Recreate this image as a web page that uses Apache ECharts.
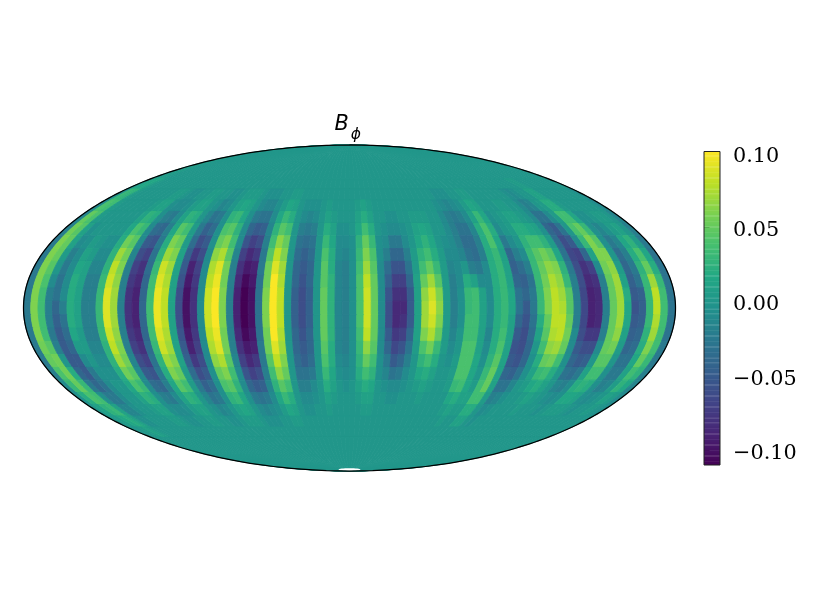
<!DOCTYPE html>
<html><head><meta charset="utf-8">
<style>html,body{margin:0;padding:0;background:#fff}#c{width:822px;height:616px}</style>
<script src="https://cdn.jsdelivr.net/npm/echarts@6/dist/echarts.min.js"></script>
</head><body><div id="c"></div>
<script>
const titleMain = 'B', titleSub = 'ϕ';
const colorbarTicks = [-0.10, -0.05, 0.00, 0.05, 0.10];
const vmin = -0.1101, vmax = 0.1010;
const viridis = ['#440154','#482475','#414487','#355f8d','#2a788e','#21918c','#22a884','#44bf70','#7ad151','#bddf26','#fde725'];
const lonCount = 90;
const latEdges = [90,63,57,51,45,39,33,27,21,15,9,3,-3,-9,-15,-21,-27,-33,-39,-45,-51,-57,-63,-90];
// B_phi in hundredths, rows north to south, columns lon -178 ... 178 in 4 degree cells
const capNorth = [0,.5,.5,0,0,0,0,0,0,0, 0,0,0,0,0,0,0,0,0,0, 0,0,0,0,0,0,0,0,0,0, 0,0,0,0,0,0,0,0,0,0, 0,0,0,0,0,0,0,0,0,0, 0,0,0,0,0,0,0,0,0,0, 0,0,0,0,0,0,0,0,0,0, 0,0,0,0,0,0,0,0,0,0, 0,0,0,0,0,0,0,0,0,0];
const lat60 = [0,1.5,1.5,.5,0,0,0,0,0,0, 0,0,0,0,0,0,0,0,0,0, 0,0,0,0,0,0,0,0,0,0, 0,0,0,0,0,0,0,0,0,0, 0,0,0,0,0,0,0,0,0,0, 0,0,0,0,0,0,0,0,0,0, 0,0,0,0,0,0,0,0,0,0, 0,0,0,0,0,0,0,0,0,0, .5,.5,0,0,0,0,0,0,0,0];
const lat54 = [-.5,3,2.5,.5,0,0,0,0,0,0, 0,.5,.5,0,-.5,-.5,0,0,.5,.5, 0,0,-.5,-.5,0,.5,.5,.5,0,-.5, -.5,-.5,0,0,.5,.5,0,0,0,0, 0,0,0,0,0,0,0,0,0,0, 0,0,0,0,0,0,0,0,0,0, 0,-.5,-.5,-.5,0,0,.5,.5,0,0, 0,0,0,0,0,-.5,-1,-.5,0,0, 1,1,0,0,0,0,0,0,0,-.5];
const lat48 = [-1,4,3.5,.5,0,0,0,0,0,0, .5,1,1,-.5,-1,-1,-.5,.5,1,1, 0,-.5,-1.5,-1,0,1,1.5,1,0,-1, -1.5,-1.5,-.5,.5,1.5,1,0,-.5,-.5,-.5, 0,.5,0,0,0,0,.5,1,.5,0, 0,0,0,0,0,0,0,0,0,0, -.5,-1,-1.5,-1,-.5,.5,1.5,1,0,0, 0,.5,.5,0,0,-1,-2,-1.5,0,.5, 2,2,.5,0,0,0,0,0,0,-1];
const lat42 = [-1.5,5,4,.5,0,0,0,0,0,0, 1,2.5,2,-.5,-2,-2.5,-1,1,2.5,2, 0,-1.5,-3,-2.5,-.5,2.5,3,1.5,-.5,-2.5, -3,-3,-1,1.5,3,2,0,-1,-1.5,-1, 0,1,.5,0,0,0,1,2,1,0, 0,-.5,-.5,0,0,.5,.5,.5,0,0, -1,-2,-2.5,-2,-1,1,3,1.5,-.5,0, .5,1,1,.5,0,-1,-3,-3,-1,.5, 3.5,3.5,1.5,-.5,-.5,0,.5,.5,0,-1.5];
const lat36 = [-2,5.5,4.5,1,-.5,0,0,0,0,0, 1.5,4,3,-1,-3.5,-4,-2,1.5,4.5,3.5, .5,-2.5,-4.5,-3.5,-.5,4,4.5,2.5,-1,-4, -5,-4.5,-1.5,2.5,4.5,3.5,0,-2,-2.5,-2, 0,2,1,-.5,-.5,0,1.5,3.5,2,0, -.5,-1,-1,-.5,0,1,1.5,1,0,0, -1,-2,-3,-3,-1.5,2,4,2,-1,0, .5,2,2,1.5,1,-.5,-4,-5,-3,0, 4,5,3,-.5,-1.5,-.5,.5,1,0,-2];
const lat30 = [-2.5,6,5,1,-1,-.5,.5,0,-.5,-.5, 2,5.5,4.5,-1,-5,-5.5,-2.5,2,6,5, .5,-3.5,-6,-5,-.5,5,6,3.5,-1,-5.5, -7,-6,-2,3.5,6.5,5,0,-3,-3.5,-3, 0,3,1.5,-1,-1,-.5,2.5,5,3,-.5, -1,-2.5,-2.5,-1,0,1.5,2.5,1.5,0,-.5, -1,-2,-3.5,-3.5,-2,2,4,1.5,-2.5,-1, 0,2.5,3.5,3.5,2.5,.5,-3.5,-6,-5,-1, 3,6,4.5,-.5,-2.5,-1.5,1.5,2.5,.5,-2.5];
const lat24 = [-2.5,6,5,.5,-2,-1,1,.5,-1,-1, 2.5,7,5.5,-1.5,-6,-7,-3,2.5,7,6, 1,-4.5,-7.5,-6,-1,6.5,7.5,4.5,-1.5,-7, -8.5,-7.5,-2.5,4.5,8,6,0,-3.5,-4.5,-3.5, 0,4,2,-1,-1.5,-.5,3,6,4,-.5, -2,-4,-4,-2,.5,2.5,3.5,2,.5,-1, -1,-1.5,-3,-3.5,-2,2,3,1,-4,-2, -1,3,4.5,5.5,4.5,1.5,-3,-6.5,-7,-4, 1,6,6,0,-3.5,-2,2,4,1.5,-3];
const lat18 = [-2.5,6,4.5,0,-2.5,-1,1.5,1,-1.5,-1.5, 2.5,8,6,-2,-7,-8,-3.5,3,8.5,7, 1,-5,-9,-7,-1,7.5,9,5.5,-2,-8, -9.5,-9,-2.5,5.5,9,7,0,-4,-5,-4, 0,4.5,2,-1.5,-2,-.5,3.5,7,4.5,-1, -3.5,-5.5,-5.5,-3,.5,3.5,5,3,.5,-1.5, -1,0,-2,-2.5,-1,2,3,1,-4.5,-3.5, -2,3,5,6.5,6,2.5,-2.5,-6,-8,-7, -1,5.5,6.5,.5,-4,-2.5,2.5,5,2,-3];
const lat12 = [-2.5,6,4,-1,-3,-1,2,1,-2,-2, 3,8.5,6.5,-2,-7.5,-8.5,-4,3.5,9,7.5, 1,-5.5,-9.5,-7.5,-1,8,9.5,5.5,-2,-8.5, -10.5,-9.5,-3,5.5,10,7.5,0,-4,-5.5,-4, 0,4.5,2.5,-1.5,-2,-.5,4,8,5,-1, -4.5,-7,-7,-4,1,5,7,4.5,.5,-2, -1,2,1,-1,-1,2,3,1,-4,-4.5, -3,3,5.5,7.5,6.5,3,-2,-6,-8.5,-8, -2,5,7,1,-4.5,-3,3,7,3,-3];
const lat06 = [-2.5,6,3.5,-2,-3,-1,2,1,-2,-2, 3,9,7,-2,-8,-9,-4,3.5,9.5,8, 1,-6,-10,-8,-1,8.5,10,6,-2,-9, -11,-10,-3,6,10,8,0,-4.5,-6,-4.5, 0,5,2.5,-1.5,-2,-.5,4,8.5,5,-1, -5.5,-8,-8,-5,1,6.5,8.5,6,.5,-2, -.5,3,3.5,1,-1,2,3,1.5,-3,-4, -2.5,3,6,8,7,4.5,-2,-6.5,-9,-8.5, -2,5,7,2,-5,-4.5,3,8,3.5,-3];
const lat00 = [-2.5,6,3.5,-2,-4,-2,2,1,-2,-2, 3,9,7,-2,-8,-9,-4,3.5,9.5,8, 1,-6,-10,-8,-1,8.5,10,6,-2,-9, -11,-10,-3,6,10,8,0,-4.5,-6,-4.5, 0,5,2.5,-1.5,-2,-.5,4,8.5,5,-1, -6,-8.5,-8.5,-5,1,7,9,6.5,.5,-2, -.5,3,3.5,1,-1,2,3,1.5,-3,-5, -2.5,3,6,8,7.5,4.5,-2,-6.5,-9,-8.5, -2,5,7,1.5,-5.5,-4.5,3,8,3.5,-3];
const lats06 = [-2.5,6,3.5,-2,-4.5,-3,2,1,-2,-2, 3,9,7,-2,-8,-9,-4,3.5,9.5,8, 1,-6,-10,-8,-1,8.5,10,6,-2,-9, -11,-10,-3,6,10,8,0,-4.5,-6,-4.5, 0,5,2.5,-1.5,-2,-.5,4,8.5,5,-1, -6,-8.5,-8,-5,1,7,8.5,6,.5,-2, -.5,3.5,3.5,1,-1,2,3,1,-4,-5.5, -3,2,5,8,8,5,-2,-6.5,-9,-8.5, -2,5,7,1.5,-5,-4.5,3,7.5,3.5,-3];
const lats12 = [-2.5,6,3.5,-2.5,-5,-3.5,1.5,.5,-2,-2, 3,8.5,6.5,-2,-7.5,-8.5,-4,3.5,9,7.5, 1,-5.5,-9.5,-7.5,-1,8,9.5,5.5,-2,-8.5, -10.5,-9.5,-3,5.5,10,7.5,0,-4,-5.5,-4, 0,5,2.5,-1.5,-2,-.5,3.5,8,5,-1, -5,-7.5,-7,-4,1,6,7.5,5,.5,-1.5, 0,3.5,3.5,1,-1.5,2,3.5,1,-5,-6, -3.5,1,4.5,7.5,8,5.5,-1,-6,-7.5,-7.5, -2,5,6.5,1,-4.5,-4,2.5,7,3.5,-3];
const lats18 = [-2.5,5.5,4.5,-2,-5,-4,.5,.5,-1.5,-1.5, 2.5,8,6,-2,-7,-8,-3.5,3,8.5,7, 1,-5,-9,-7,-1,7.5,9,5.5,-2,-8, -9.5,-9,-2.5,5.5,9,7,0,-4,-5,-4, 0,4.5,2,-1.5,-2,-.5,3,6.5,4.5,-1, -4,-6.5,-5.5,-3,.5,4,5.5,3,.5,-1, 0,4,4,1,-1,2,4,1,-5.5,-6, -4,0,3.5,6.5,7,5,-1,-5,-6,-6, -1,5,5.5,.5,-4,-3.5,2,6,3.5,-2.5];
const lats24 = [-2.5,5,5.5,0,-5,-5,-1,0,-1,-1, 2.5,7,5.5,-1.5,-6,-7,-3,2.5,7,6, 1,-4.5,-7.5,-6,-1,6.5,7.5,4.5,-1.5,-7, -8.5,-7.5,-2.5,4.5,8,6,0,-3.5,-4.5,-3.5, 0,4,2,-1,-1.5,-.5,2.5,5,3.5,-.5, -2.5,-5,-4,-2,0,2.5,3.5,2,0,-.5, .5,4,4,1.5,-.5,2.5,4.5,1,-5,-5.5, -4,-.5,2,5,5.5,3.5,-.5,-4,-5,-4.5, 0,4.5,4.5,0,-3,-3,1.5,5,3,-2.5];
const lats30 = [-2,4,5.5,2,-4,-5,-2.5,-.5,-.5,-.5, 2,5.5,4.5,-1,-5,-5.5,-2.5,2,6,5, .5,-3.5,-6,-5,-.5,5,6,3.5,-1,-5.5, -7,-6,-2,3.5,6.5,5,0,-3,-3,-2.5, 0,3,1.5,-.5,-1,-.5,2,3.5,2.5,-.5, -1.5,-3,-2.5,-1,0,1.5,2,1,0,0, .5,4,4,1.5,0,3,5,1,-4,-4.5, -3,-.5,1,3,3.5,2,0,-3,-3.5,-2.5, 1,3.5,3.5,-.5,-2.5,-2.5,1,3.5,2.5,-2];
const lats36 = [-1,3,5,3,-2.5,-4,-3,-1,0,0, 1.5,4,3,-1,-3.5,-4,-2,1.5,4.5,3.5, .5,-2.5,-4.5,-3.5,-.5,4,4.5,2.5,-1,-4, -5,-4.5,-1.5,2.5,4.5,3.5,0,-2,-2,-1, 0,2,1,0,-.5,0,1,2,1.5,0, -.5,-1,-1,-.5,0,.5,1,.5,0,0, .5,3,3.5,1.5,.5,3.5,5,1,-3,-3, -1.5,0,.5,1.5,2,1,0,-1.5,-2,-1, 2,2.5,2,-.5,-2,-1.5,.5,2.5,1.5,-1.5];
const lats42 = [-.5,2,4,3.5,-.5,-2.5,-2.5,-1,0,0, 1,2.5,2,-.5,-2,-2.5,-1,1,2.5,2, 0,-1.5,-3,-2.5,-.5,2.5,3,1.5,-.5,-2.5, -3,-2.5,-1,1.5,3,2,0,-1,-1,-.5, 0,1,.5,0,0,0,.5,1,1,0, 0,-.5,-.5,0,0,0,.5,0,0,0, 0,1.5,2,1,1,3.5,3.5,.5,-2,-1.5, -.5,0,0,.5,1,.5,0,-.5,-1,-.5, 1.5,1.5,1,-.5,-1,-.5,0,1,.5,-1];
const lats48 = [0,1,2.5,3,1,-1.5,-1.5,-.5,0,0, .5,1,1,-.5,-1,-1,-.5,.5,1,1, 0,-.5,-1.5,-1,0,1,1.5,1,0,-1, -1.5,-1,-.5,.5,1.5,1,0,-.5,-.5,0, 0,.5,0,0,0,0,0,.5,.5,0, 0,0,0,0,0,0,0,0,0,0, 0,.5,1,.5,.5,2,2,0,-1,-.5, 0,0,0,0,.5,0,0,0,-.5,0, .5,.5,.5,0,-.5,0,0,.5,0,-.5];
const lats54 = [0,.5,1.5,2,1,-.5,-.5,0,0,0, 0,.5,.5,0,-.5,-.5,0,0,.5,.5, 0,0,-.5,-.5,0,.5,.5,.5,0,-.5, -.5,-.5,0,0,.5,.5,0,0,0,0, 0,0,0,0,0,0,0,0,0,0, 0,0,0,0,0,0,0,0,0,0, 0,0,.5,0,0,1,1,0,-.5,0, 0,0,0,0,0,0,0,0,0,0, 0,0,0,0,0,0,0,0,0,0];
const lats60 = [0,0,.5,1,.5,0,0,0,0,0, 0,0,0,0,0,0,0,0,0,0, 0,0,0,0,0,0,0,0,0,0, 0,0,0,0,0,0,0,0,0,0, 0,0,0,0,0,0,0,0,0,0, 0,0,0,0,0,0,0,0,0,0, 0,0,0,0,0,0,0,0,0,0, 0,0,0,0,0,0,0,0,0,0, 0,0,0,0,0,0,0,0,0,0];
const capSouth = [0,0,0,0,0,0,0,0,0,0, 0,0,0,0,0,0,0,0,0,0, 0,0,0,0,0,0,0,0,0,0, 0,0,0,0,0,0,0,0,0,0, 0,0,0,0,0,0,0,0,0,0, 0,0,0,0,0,0,0,0,0,0, 0,0,0,0,0,0,0,0,0,0, 0,0,0,0,0,0,0,0,0,0, 0,0,0,0,0,0,0,0,0,0];
const bphiRows = [capNorth,lat60,lat54,lat48,lat42,lat36,lat30,lat24,lat18,lat12,lat06,lat00,lats06,lats12,lats18,lats24,lats30,lats36,lats42,lats48,lats54,lats60,capSouth];

const R2 = Math.SQRT2;
function mollweide(lonDeg, latDeg) {
  const phi = latDeg * Math.PI / 180;
  let th = phi;
  if (Math.abs(latDeg) >= 90) { th = Math.sign(latDeg) * Math.PI / 2; }
  else {
    for (let i = 0; i < 60; i++) {
      const d = (2*th + Math.sin(2*th) - Math.PI*Math.sin(phi)) / (2 + 2*Math.cos(2*th) + 1e-12);
      th -= d;
      if (Math.abs(d) < 1e-9) break;
    }
  }
  return [2*R2/Math.PI * (lonDeg*Math.PI/180) * Math.cos(th), R2*Math.sin(th)];
}
function colorOf(v) {
  const t = Math.min(1, Math.max(0, (v-vmin)/(vmax-vmin)));
  return echarts.color.lerp(t, viridis);
}

const cells = [];
const lonStep = 360 / lonCount;
bphiRows.forEach((row, r) => {
  row.forEach((v, c) => {
    const lonL = -180 + c*lonStep;
    cells.push([lonL, lonL + lonStep, latEdges[r], latEdges[r+1], v/100]);
  });
});

function renderCell(params, api) {
  const lonL = api.value(0), lonR = api.value(1), latT = api.value(2), latB = api.value(3);
  const n = Math.max(2, Math.ceil((latT-latB)/1.5));
  const pts = [];
  for (let i = 0; i <= n; i++) pts.push(api.coord(mollweide(lonL, latT + (latB-latT)*i/n)));
  for (let i = n; i >= 0; i--) pts.push(api.coord(mollweide(lonR, latT + (latB-latT)*i/n)));
  const col = colorOf(api.value(4));
  return {type:'polygon', shape:{points:pts}, style:{fill:col, stroke:col, lineWidth:0.9}};
}

function renderOutline(params, api) {
  const pts = [];
  for (let a = 90; a >= -90; a -= 1) pts.push(api.coord(mollweide(-180, a)));
  for (let a = -90; a <= 90; a += 1) pts.push(api.coord(mollweide(180, a)));
  const south = api.coord(mollweide(0, -90));
  return {type:'group', children:[
    {type:'ellipse', shape:{cx:south[0], cy:south[1]-1.5, rx:11, ry:1.2}, style:{fill:'#fff'}},
    {type:'polygon', shape:{points:pts}, style:{fill:'none', stroke:'#000', lineWidth:1.25}}
  ]};
}

const colorbarCells = [];
for (let i = 0; i < 256; i++) {
  const a = vmin + (vmax-vmin)*i/256, b = vmin + (vmax-vmin)*(i+1)/256;
  colorbarCells.push([0, 1, a, b, (a+b)/2]);
}
function renderBarCell(params, api) {
  const p0 = api.coord([0, api.value(2)]), p1 = api.coord([1, api.value(3)]);
  return {type:'rect', shape:{x:p0[0], y:p1[1], width:p1[0]-p0[0], height:p0[1]-p1[1]+0.4}, style:{fill:colorOf(api.value(4))}};
}
function renderBarFrame(params, api) {
  const p0 = api.coord([0, vmin]), p1 = api.coord([1, vmax]);
  return {type:'rect', shape:{x:p0[0], y:p1[1], width:p1[0]-p0[0], height:p0[1]-p1[1]}, style:{fill:'none', stroke:'#222', lineWidth:1}};
}

const chart = echarts.init(document.getElementById('c'), null, {renderer:'canvas'});
chart.setOption({
  animation:false,
  backgroundColor:'#fff',
  title:{left:334.5, top:114.5, padding:0, text:'{b|'+titleMain+'}{s|'+titleSub+'}', textStyle:{rich:{
    b:{fontFamily:'DejaVu Sans', fontStyle:'italic', fontWeight:'normal', fontSize:20.8, color:'#000', lineHeight:26, verticalAlign:'top'},
    s:{fontFamily:'DejaVu Sans', fontStyle:'italic', fontWeight:'normal', fontSize:15.5, color:'#000', lineHeight:26, padding:[14,0,0,2]}
  }}},
  grid:[
    {left:23.5, top:145, width:652, height:326, show:false},
    {left:704, top:151.5, width:16, height:313.5, show:false}
  ],
  xAxis:[
    {gridIndex:0, type:'value', min:-2*R2, max:2*R2, show:false},
    {gridIndex:1, type:'value', min:0, max:1, show:false}
  ],
  yAxis:[
    {gridIndex:0, type:'value', min:-R2, max:R2, show:false},
    {gridIndex:1, type:'value', min:vmin, max:vmax, position:'right', splitLine:{show:false},
     axisLine:{show:false},
     axisTick:{show:true, length:5.5, lineStyle:{color:'#000', width:1}, customValues:colorbarTicks},
     axisLabel:{show:true, margin:13, customValues:colorbarTicks,
       rich:{t:{fontFamily:'DejaVu Serif', fontSize:20.8, color:'#000', lineHeight:24, padding:[7,0,0,0]}},
       formatter:v => '{t|' + (v<0?'\u2212':'') + Math.abs(v).toFixed(2) + '}'}}
  ],
  series:[
    {type:'custom', coordinateSystem:'cartesian2d', xAxisIndex:0, yAxisIndex:0, renderItem:renderCell, data:cells, clip:false, silent:true, z:2, encode:{x:0,y:2}},
    {type:'custom', coordinateSystem:'cartesian2d', xAxisIndex:0, yAxisIndex:0, renderItem:renderOutline, data:[[0,0]], clip:false, silent:true, z:5},
    {type:'custom', coordinateSystem:'cartesian2d', xAxisIndex:1, yAxisIndex:1, renderItem:renderBarCell, data:colorbarCells, clip:true, silent:true, z:2, encode:{x:0,y:2}},
    {type:'custom', coordinateSystem:'cartesian2d', xAxisIndex:1, yAxisIndex:1, renderItem:renderBarFrame, data:[[0,0]], clip:false, silent:true, z:5}
  ]
});
</script></body></html>
